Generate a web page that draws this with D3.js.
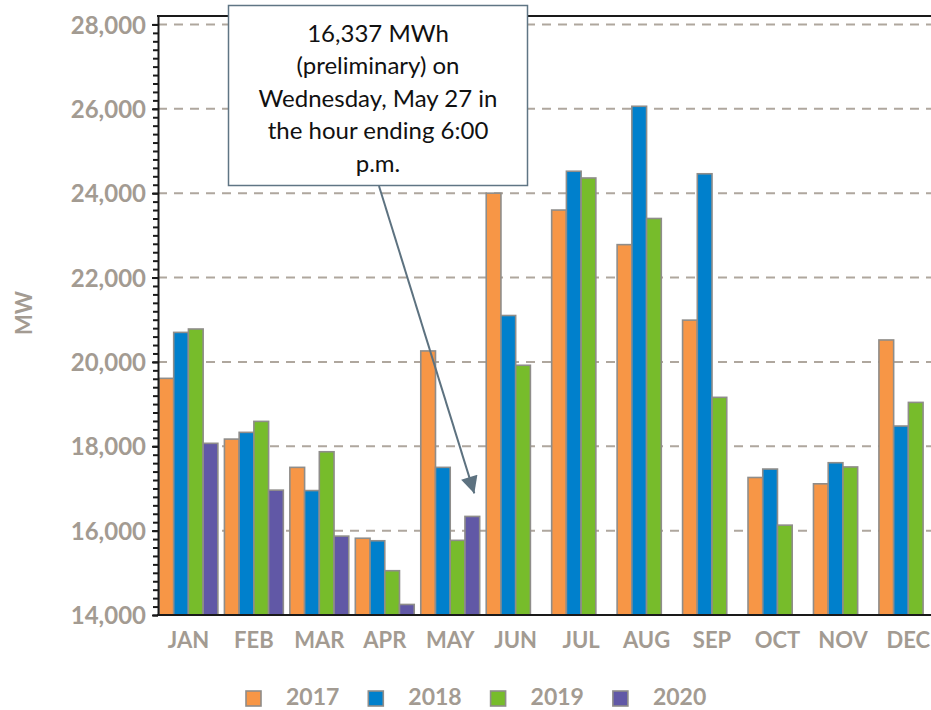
<!DOCTYPE html>
<html>
<head>
<meta charset="utf-8">
<script src="https://cdn.jsdelivr.net/npm/d3@7"></script>
<style>
  html, body { margin: 0; padding: 0; background: #fff; }
  svg { display: block; }
  .lbl { font-family: Lato, "Open Sans", sans-serif; font-weight: 700; fill: #a39b92; }
</style>
</head>
<body>
<svg id="chart" width="931" height="710"></svg>
<script>
// Monthly peak demand (MW) by year
const months = ["JAN","FEB","MAR","APR","MAY","JUN","JUL","AUG","SEP","OCT","NOV","DEC"];
const years = ["2017","2018","2019","2020"];
const peak2017 = [19610, 18170, 17500, 15820, 20260, 24000, 23600, 22780, 20990, 17260, 17110, 20520];
const peak2018 = [20700, 18330, 16950, 15760, 17500, 21100, 24520, 26060, 24460, 17460, 17610, 18480];
const peak2019 = [20780, 18590, 17870, 15050, 15770, 19920, 24360, 23400, 19160, 16130, 17510, 19040];
const peak2020 = [18070, 16960, 15870, 14250, 16337, null, null, null, null, null, null, null];
const yMajorTicks = [14000, 16000, 18000, 20000, 22000, 24000, 26000, 28000];
const colors = ["#f79646", "#0080cc", "#77bc2b", "#6158a6"];
const calloutMonth = "MAY";
const calloutYear = "2020";

const series = [peak2017, peak2018, peak2019, peak2020];

const svg = d3.select("#chart");

const x = d3.scaleBand().domain(months).range([155.7, 941.1])
  .paddingInner(0.1).paddingOuter(0.05);
const xs = d3.scaleBand().domain(years).range([0, x.bandwidth()]);
const y = d3.scaleLinear().domain([14000, 28200]).range([615, 16]);

const left = 158, right = 941;

// dashed gridlines
svg.append("g").selectAll("line")
  .data(yMajorTicks.filter(v => v > 14000))
  .join("line")
  .attr("x1", left).attr("x2", right)
  .attr("y1", d => y(d)).attr("y2", d => y(d))
  .attr("stroke", "#afa79e").attr("stroke-width", 2)
  .attr("stroke-dasharray", "9,7");

// bars
const rows = [];
months.forEach((m, i) => {
  years.forEach((yr, j) => {
    const v = series[j][i];
    if (v != null) rows.push({ m, yr, v, c: colors[j] });
  });
});
svg.append("g").selectAll("rect")
  .data(rows)
  .join("rect")
  .attr("x", d => x(d.m) + xs(d.yr))
  .attr("width", xs.bandwidth())
  .attr("y", d => y(d.v))
  .attr("height", d => y(14000) - y(d.v))
  .attr("fill", d => d.c)
  .attr("stroke", "#8f8d8a").attr("stroke-width", 1.6);

// frame lines: top and bottom
svg.append("line").attr("x1", left - 1).attr("x2", right)
  .attr("y1", y(28200)).attr("y2", y(28200))
  .attr("stroke", "#1a1a1a").attr("stroke-width", 2);
svg.append("line").attr("x1", left - 1).attr("x2", right)
  .attr("y1", y(14000)).attr("y2", y(14000))
  .attr("stroke", "#1a1a1a").attr("stroke-width", 2);

// y axis: minor ticks every 200
const minorAxis = d3.axisLeft(y).tickValues(d3.range(14000, 28001, 200))
  .tickSize(5).tickSizeOuter(0).tickFormat("");
const gMinor = svg.append("g").attr("transform", `translate(${left},0)`).call(minorAxis);
gMinor.selectAll("line").attr("stroke", "#1a1a1a").attr("stroke-width", 2);
gMinor.select(".domain").attr("stroke", "#1a1a1a").attr("stroke-width", 2);

// y axis: major ticks with labels
const majorAxis = d3.axisLeft(y).tickValues(yMajorTicks)
  .tickSize(6).tickSizeOuter(0).tickPadding(6).tickFormat(d3.format(","));
const gMajor = svg.append("g").attr("transform", `translate(${left},0)`).call(majorAxis);
gMajor.select(".domain").remove();
gMajor.selectAll("line").attr("stroke", "#1a1a1a").attr("stroke-width", 2);
gMajor.selectAll("text").attr("class", "lbl").attr("font-size", 24)
  .attr("dy", "0.36em");

// x axis labels
const xAxis = d3.axisBottom(x).tickSize(0).tickPadding(0);
const gx = svg.append("g").attr("transform", `translate(0,${y(14000)})`).call(xAxis);
gx.select(".domain").remove();
gx.selectAll("text").attr("class", "lbl").attr("font-size", 22)
  .attr("y", 25).attr("dy", "0.36em").attr("dx", 0);

// y axis title
svg.append("text").attr("class", "lbl").attr("font-size", 22)
  .attr("transform", "translate(24,313) rotate(-90)")
  .attr("text-anchor", "middle").attr("dy", "0.36em").text("MW");

// legend
const legend = svg.append("g").attr("transform", "translate(246,0)");
years.forEach((yr, j) => {
  const g = legend.append("g").attr("transform", `translate(${j * 122.3},0)`);
  g.append("rect").attr("x", 0).attr("y", 691).attr("width", 15).attr("height", 15)
    .attr("fill", colors[j]).attr("stroke", "#8f8d8a").attr("stroke-width", 1.6);
  g.append("text").attr("class", "lbl").attr("font-size", 23)
    .attr("x", 40).attr("y", 697).attr("dy", "0.36em").text(yr);
});

// callout with arrow pointing at the May 2020 bar
const calloutValue = peak2020[months.indexOf(calloutMonth)];
const barCx = x(calloutMonth) + xs(calloutYear) + xs.bandwidth() / 2;
const tip = [barCx + 2, y(calloutValue) - 23];
const start = [379, 186];

svg.append("defs").append("marker")
  .attr("id", "head").attr("viewBox", "0 0 10 10")
  .attr("refX", 10).attr("refY", 5)
  .attr("markerWidth", 20).attr("markerHeight", 17)
  .attr("markerUnits", "userSpaceOnUse")
  .attr("orient", "auto")
  .append("path").attr("d", "M0,0 L10,5 L0,10 Z").attr("fill", "#5d7280");

svg.append("line")
  .attr("x1", start[0]).attr("y1", start[1])
  .attr("x2", tip[0]).attr("y2", tip[1])
  .attr("stroke", "#5d7280").attr("stroke-width", 2)
  .attr("marker-end", "url(#head)");

svg.append("rect").attr("x", 228.5).attr("y", 5.5).attr("width", 299).attr("height", 180)
  .attr("fill", "#fff").attr("stroke", "#5f7584").attr("stroke-width", 1.5);

const calloutLines = [
  d3.format(",")(calloutValue) + " MWh",
  "(preliminary) on",
  "Wednesday, May 27 in",
  "the hour ending 6:00",
  "p.m."
];
svg.append("g").selectAll("text")
  .data(calloutLines)
  .join("text")
  .attr("x", 378).attr("y", (d, i) => 33 + i * 32.5)
  .attr("dy", "0.36em")
  .attr("text-anchor", "middle")
  .attr("font-family", "Lato, 'Open Sans', sans-serif")
  .attr("font-size", 24)
  .attr("fill", "#111")
  .text(d => d);
</script>
</body>
</html>
